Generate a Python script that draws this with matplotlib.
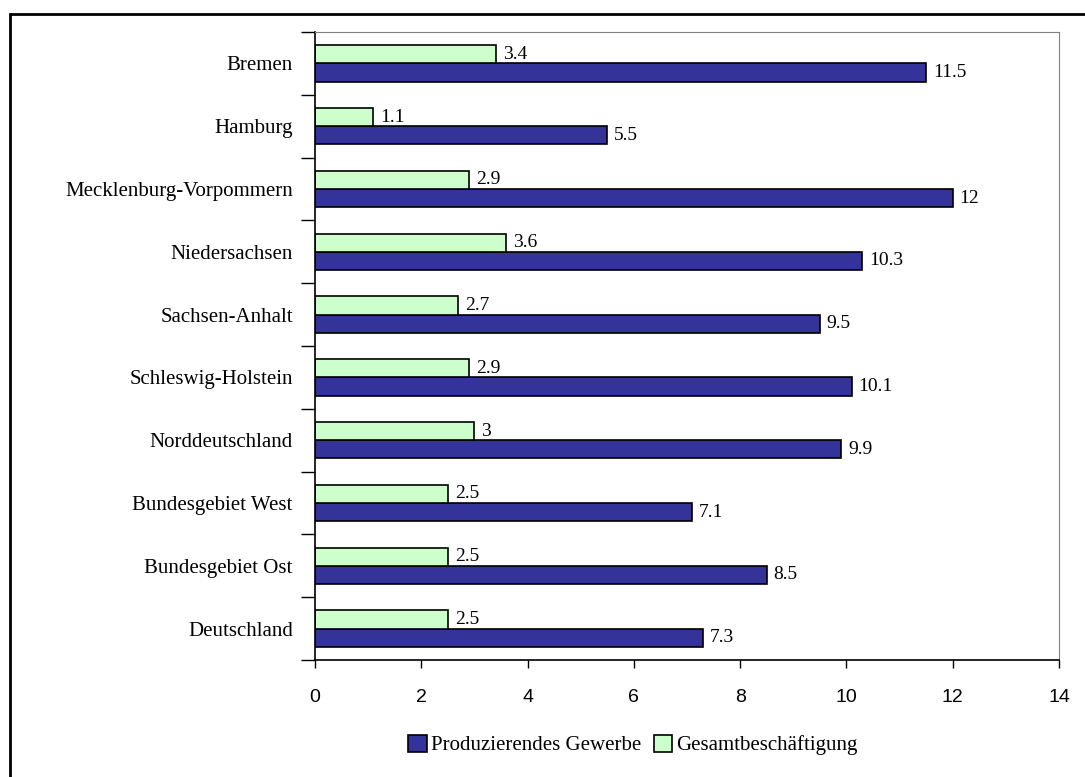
import matplotlib.pyplot as plt
from matplotlib.patches import Rectangle

# data, top to bottom as in the chart
regions = ["Bremen", "Hamburg", "Mecklenburg-Vorpommern", "Niedersachsen",
           "Sachsen-Anhalt", "Schleswig-Holstein", "Norddeutschland",
           "Bundesgebiet West", "Bundesgebiet Ost", "Deutschland"]
produzierend = [11.5, 5.5, 12, 10.3, 9.5, 10.1, 9.9, 7.1, 8.5, 7.3]
gesamt = [3.4, 1.1, 2.9, 3.6, 2.7, 2.9, 3, 2.5, 2.5, 2.5]
x_ticks = [0, 2, 4, 6, 8, 10, 12, 14]

serif = "Liberation Serif"
sans = "Liberation Sans"

fig = plt.figure(figsize=(10.85, 7.77), dpi=100)
ax = fig.add_axes([315 / 1085, 1 - 660 / 777, 744 / 1085, 628 / 777])

# outer frame of the chart object (runs off right/bottom)
fig.patches.append(Rectangle((10 / 1085, -0.1), 1.2, 1 - 14 / 777 + 0.1,
                             transform=fig.transFigure, fill=False,
                             edgecolor="black", linewidth=2))

n = len(regions)
pos = [n - 1 - i for i in range(n)]
h = 0.29
blue = "#333399"
green = "#CCFFCC"

b1 = ax.barh([p - h / 2 for p in pos], produzierend, height=h, color=blue,
             edgecolor="black", linewidth=1.2, label="Produzierendes Gewerbe")
b2 = ax.barh([p + h / 2 for p in pos], gesamt, height=h, color=green,
             edgecolor="black", linewidth=1.2, label="Gesamtbeschäftigung")

for bars, vals in ((b1, produzierend), (b2, gesamt)):
    for bar, v in zip(bars, vals):
        ax.text(bar.get_width() + 0.13, bar.get_y() + bar.get_height() / 2,
                f"{v:g}", va="center", ha="left", fontsize=14, family=serif)

ax.set_xlim(0, 14)
ax.set_ylim(-0.5, n - 0.5)
ax.set_xticks(x_ticks)
ax.set_xticklabels([str(t) for t in x_ticks], fontsize=14, family=sans)
ax.tick_params(axis="x", direction="out", length=6, pad=15, width=1)

ax.set_yticks(pos)
ax.set_yticklabels(regions, fontsize=15, family=serif)
ax.set_yticks([p + 0.5 for p in range(-1, n)], minor=True)
ax.tick_params(axis="y", which="major", length=0, pad=16)
ax.tick_params(axis="y", which="minor", direction="out", length=10, width=1)

ax.spines["top"].set_color("#808080")
ax.spines["right"].set_color("#808080")
ax.spines["left"].set_linewidth(1.2)
ax.spines["bottom"].set_linewidth(1.2)

ax.legend(loc="center", bbox_to_anchor=(633 / 1085, 1 - 745 / 777),
          bbox_transform=fig.transFigure, ncol=2, frameon=False,
          prop={"family": serif, "size": 15}, handlelength=0.9,
          handleheight=0.9, handletextpad=0.2, columnspacing=0.6)

fig.savefig("out.png", dpi=100)
